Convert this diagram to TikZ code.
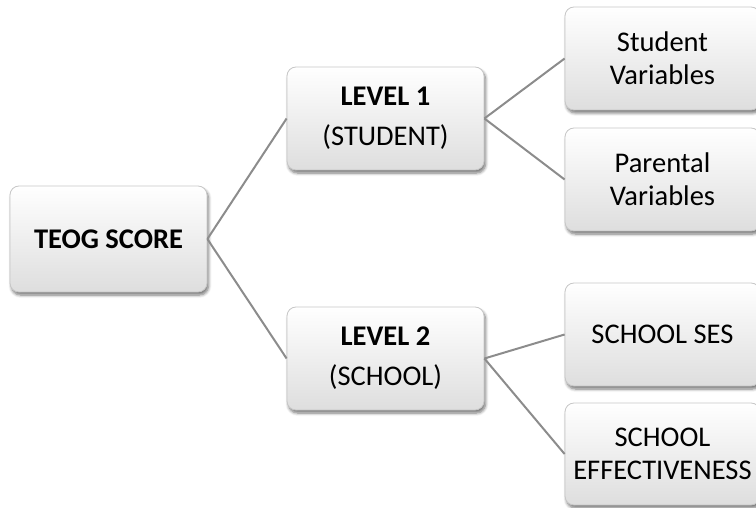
\documentclass[tikz,border=0pt]{standalone}
\usepackage{fontspec}
\setmainfont{Carlito}
\usetikzlibrary{shadows.blur}
\begin{document}
\begin{tikzpicture}[x=1pt,y=-1pt,
  box/.style={draw=black!22, line width=0.8pt, rounded corners=9pt,
    top color=white, bottom color=black!13, align=center, inner sep=0pt,
    font=\fontsize{28.5}{33}\selectfont,
    blur shadow={shadow xshift=1.5pt, shadow yshift=-3pt, shadow blur steps=6, shadow blur radius=3pt, shadow opacity=55}},
  conn/.style={draw=black!45, line width=2pt}]
\useasboundingbox (0,0) rectangle (756,508);
\node[box, minimum width=197pt, minimum height=106pt] (teog) at (108.5,239) {\bfseries TEOG SCORE};
\node[box, minimum width=197pt, minimum height=103pt] (l1) at (385.5,118.5) {\bfseries LEVEL 1\\[7pt](STUDENT)};
\node[box, minimum width=197pt, minimum height=103pt] (l2) at (385.5,358.5) {\bfseries LEVEL 2\\[7pt](SCHOOL)};
\node[box, minimum width=195pt, minimum height=103pt] (sv) at (662.5,58.5) {Student\\Variables};
\node[box, minimum width=195pt, minimum height=103pt] (pv) at (662.5,179.5) {Parental\\Variables};
\node[box, minimum width=195pt, minimum height=103pt] (ses) at (662.5,334.5) {SCHOOL SES};
\node[box, minimum width=195pt, minimum height=102pt] (eff) at (662.5,454) {SCHOOL\\EFFECTIVENESS};
\draw[conn] (teog.east) -- (l1.west);
\draw[conn] (teog.east) -- (l2.west);
\draw[conn] (l1.east) -- (sv.west);
\draw[conn] (l1.east) -- (pv.west);
\draw[conn] (l2.east) -- (ses.west);
\draw[conn] (l2.east) -- (eff.west);
\end{tikzpicture}
\end{document}
